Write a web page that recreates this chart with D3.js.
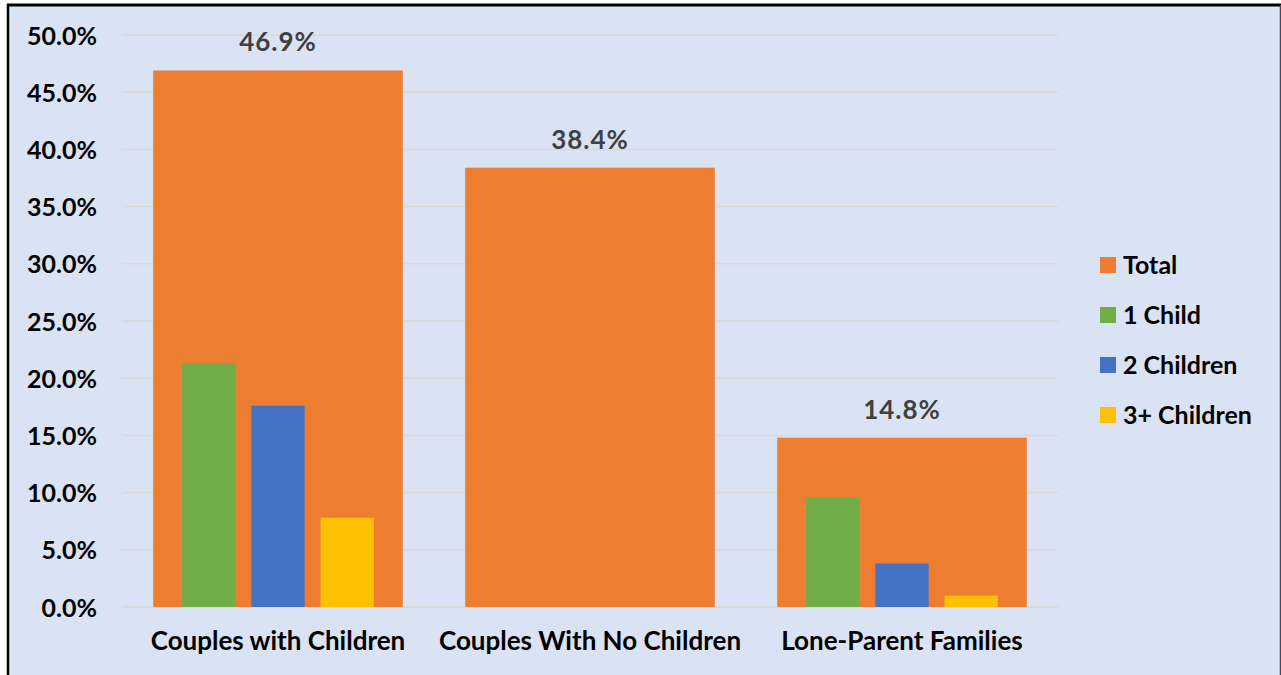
<!DOCTYPE html>
<html><head><meta charset="utf-8">
<script src="https://cdn.jsdelivr.net/npm/d3@7"></script>
<style>html,body{margin:0;padding:0;background:#fff;overflow:hidden}</style>
</head><body><svg id="c" width="1281" height="675"></svg>
<script>
const categories = ["Couples with Children", "Couples With No Children", "Lone-Parent Families"];
const totalValues = [46.9, 38.4, 14.8];
const subSeries = ["1 Child", "2 Children", "3+ Children"];
const oneChild = [21.3, null, 9.6];
const twoChildren = [17.6, null, 3.8];
const threePlusChildren = [7.8, null, 1.0];
const yTicks = [0, 5, 10, 15, 20, 25, 30, 35, 40, 45, 50];
const legendLabels = ["Total", "1 Child", "2 Children", "3+ Children"];
const colors = {"Total":"#ed7d31","1 Child":"#70ad47","2 Children":"#4472c4","3+ Children":"#ffc000"};

const svg = d3.select("#c");
const font = "Lato, 'Open Sans', sans-serif";
svg.append("rect").attr("x",8).attr("y",5).attr("width",1272).attr("height",675).attr("fill","#dae3f3");
svg.append("line").attr("x1",8).attr("x2",8).attr("y1",4).attr("y2",675).attr("stroke","#000").attr("stroke-width",2.5);
svg.append("line").attr("x1",7).attr("x2",1281).attr("y1",5).attr("y2",5).attr("stroke","#000").attr("stroke-width",3);
svg.append("line").attr("x1",1280.5).attr("x2",1280.5).attr("y1",5).attr("y2",675).attr("stroke","#444a5a").attr("stroke-width",1.5);

const y = d3.scaleLinear().domain([0,50]).range([607,35]);
const x = d3.scaleBand().domain(categories).range([122,1058]).paddingInner(0.2).paddingOuter(0.1);

// gridlines
svg.append("g").selectAll("line").data(yTicks).join("line")
  .attr("x1",122).attr("x2",1058).attr("y1",d=>y(d)).attr("y2",d=>y(d))
  .attr("stroke","#d9d9d9").attr("stroke-width",1.5);

// y axis labels
const yAxis = d3.axisLeft(y).tickValues(yTicks).tickFormat(d=>d.toFixed(1)+"%").tickSize(0).tickPadding(0);
const ga = svg.append("g").attr("transform","translate(97,0)").call(yAxis);
ga.select(".domain").remove();
ga.selectAll("text").attr("font-family",font).attr("font-weight","bold").attr("font-size",25).attr("fill","#000").attr("dy","0.36em");

// total bars
svg.append("g").selectAll("rect").data(categories).join("rect")
  .attr("x",d=>x(d)).attr("width",x.bandwidth())
  .attr("y",(d,i)=>y(totalValues[i])).attr("height",(d,i)=>y(0)-y(totalValues[i]))
  .attr("fill",colors["Total"]);

// sub bars
const subData = [oneChild, twoChildren, threePlusChildren];
categories.forEach((c,i)=>{
  const bw = x.bandwidth();
  const xs = d3.scaleBand().domain(subSeries).range([x(c)+bw*0.116, x(c)+bw*0.884]).paddingInner(0.23).paddingOuter(0);
  subSeries.forEach((s,j)=>{
    const v = subData[j][i];
    if (v==null) return;
    svg.append("rect").attr("x",xs(s)).attr("width",xs.bandwidth())
      .attr("y",y(v)).attr("height",y(0)-y(v)).attr("fill",colors[s]);
  });
});

// data labels
svg.append("g").selectAll("text").data(categories).join("text")
  .attr("x",d=>x(d)+x.bandwidth()/2).attr("y",(d,i)=>y(totalValues[i])-19)
  .attr("text-anchor","middle").attr("font-family",font).attr("font-weight","bold")
  .attr("font-size",26).attr("letter-spacing",1).attr("fill","#404040").text((d,i)=>totalValues[i].toFixed(1)+"%");

// x axis labels
const xAxis = d3.axisBottom(x).tickSize(0).tickPadding(0);
const gx = svg.append("g").attr("transform","translate(0,641)").call(xAxis);
gx.select(".domain").remove();
gx.selectAll("text").attr("font-family",font).attr("font-weight","bold").attr("font-size",26).attr("fill","#000").attr("dy","0.36em");

// legend
const lg = svg.append("g").selectAll("g").data(legendLabels).join("g")
  .attr("transform",(d,i)=>`translate(1100,${265 + i*50})`);
lg.append("rect").attr("x",0).attr("y",-8).attr("width",16).attr("height",16).attr("fill",d=>colors[d]);
lg.append("text").attr("x",23).attr("y",0).attr("dy","0.36em").attr("font-family",font).attr("font-weight","bold").attr("font-size",25).attr("fill","#000").text(d=>d);
</script></body></html>
